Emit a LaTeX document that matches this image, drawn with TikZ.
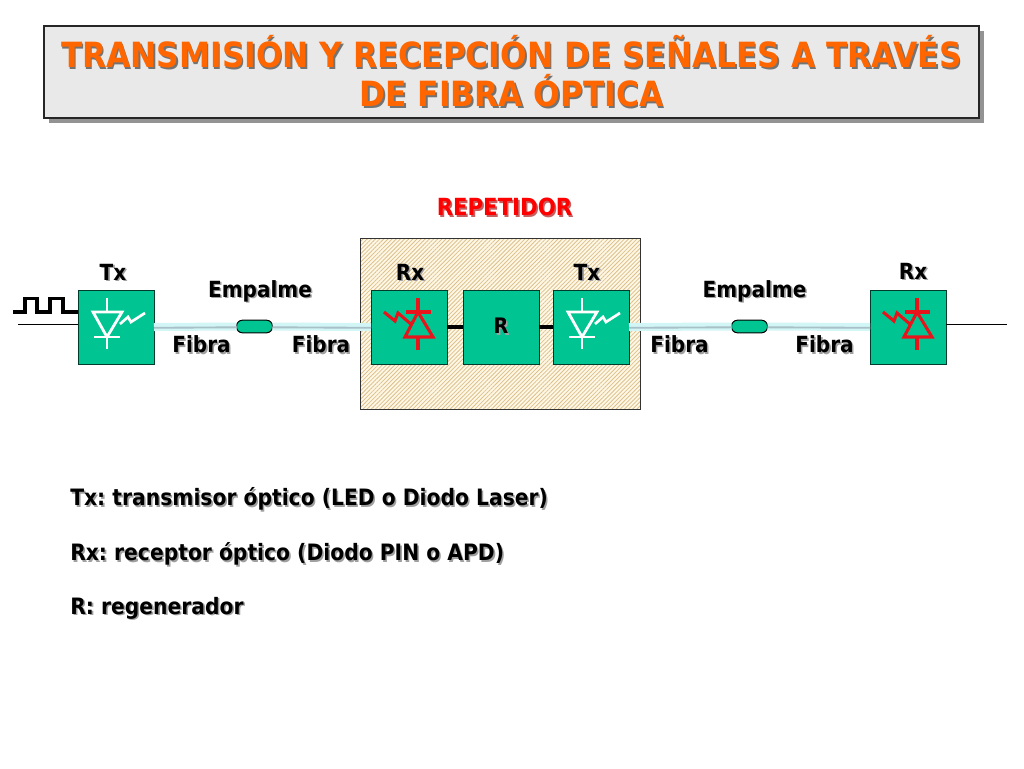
\documentclass[tikz,border=0pt]{standalone}
\usepackage{fontspec}
\setmainfont{DejaVu Sans}[FakeStretch=0.9]
\usetikzlibrary{patterns.meta}
\definecolor{boxgreen}{HTML}{00C492}
\definecolor{spliceGreen}{HTML}{00C492}
\definecolor{titleorange}{HTML}{FF6600}
\definecolor{titlefill}{HTML}{E9E9E9}
\definecolor{fibreout}{HTML}{D2F5F5}
\definecolor{fibremid}{HTML}{A8C0C8}
\definecolor{cream}{HTML}{FFF8E6}
\definecolor{hatch}{HTML}{DCC08C}
\definecolor{shadowgray}{HTML}{A0A0A0}
\definecolor{diodered}{HTML}{E8141C}
\newcommand\shadtext[3][shadowgray]{\leavevmode\rlap{\kern#2\raisebox{-#2}{\color{#1}#3}}#3}
\newcommand\lbl[1]{\shadtext{1.2pt}{#1}}
\tikzset{
  x=0.75pt,y=-0.75pt,
  unit/.style={draw=black!70!boxgreen,line width=0.75pt,fill=boxgreen,minimum width=57pt,minimum height=55.5pt,inner sep=0pt,outer sep=0pt,font=\bfseries\fontsize{16pt}{18pt}\selectfont},
  tag/.style={font=\bfseries\fontsize{16.7pt}{19pt}\selectfont,inner sep=0pt},
  legend/.style={font=\bfseries\fontsize{16.92pt}{19pt}\selectfont,inner sep=0pt,anchor=west},
  fibreA/.style={line width=6pt,fibreout},
  fibreB/.style={line width=1.4pt,fibremid,transform canvas={yshift=-0.6pt}},
  splice/.style={draw=black,line width=0.75pt,fill=spliceGreen,rounded corners=4.5pt,minimum width=27pt,minimum height=9.5pt,inner sep=0pt,outer sep=0pt},
  wire/.style={black,line width=0.75pt},
  link/.style={black,line width=2.4pt},
  emit/.style={white,line width=2.1pt},
  detect/.style={diodered,line width=2.3pt,line join=miter},
}
\newcommand\txdiode[1]{\begin{scope}[shift={(#1,0)}]
  \draw[emit] (29,298) -- (29,312);
  \draw[emit] (29,337) -- (29,349);
  \draw[emit] (15,312) -- (44,312) -- (29,337) -- cycle;
  \draw[emit] (16,337) -- (42,337);
  \draw[emit,line width=2pt] (42,324) -- (50,317) -- (53,322) -- (67,313);
\end{scope}}
\newcommand\rxdiode[1]{\begin{scope}[shift={(#1,0)}]
  \draw[detect] (47,298) -- (47,312);
  \draw[detect] (47,337) -- (47,350);
  \draw[detect] (35,312) -- (60,312);
  \draw[detect] (47,312) -- (62,337) -- (34,337) -- cycle;
  \draw[detect] (13,312) -- (24,321) -- (27,313) -- (41,325);
\end{scope}}
\begin{document}
\frenchspacing
\begin{tikzpicture}
\useasboundingbox (0,0) rectangle (1024,768);
% title
\fill[gray!85] (49,31) rectangle (984,123);
\node[draw=black!85,line width=0.8pt,fill=titlefill,minimum width=701.25pt,minimum height=69pt,inner sep=0pt,outer sep=0pt,
  font=\bfseries\fontsize{26.05pt}{29.2pt}\selectfont,text=titleorange,align=center] (title) at (511.5,72)
  {\raisebox{-1pt}{\shadtext[black!55]{1.1pt}{TRANSMISIÓN Y RECEPCIÓN DE SEÑALES A TRAVÉS}}\\\raisebox{-1pt}{\shadtext[black!55]{1.1pt}{DE FIBRA ÓPTICA}}};
% repeater
\node[draw=black!80,line width=0.75pt,preaction={fill=cream},pattern={Lines[angle=45,distance=2.2pt,line width=0.6pt]},pattern color=hatch,
  minimum width=210pt,minimum height=128pt,inner sep=0pt,outer sep=0pt] (rep) at (500,324) {};
\node[tag,text=red,font=\bfseries\fontsize{17.7pt}{19pt}\selectfont] (reptitle) at (504.5,208) {\shadtext[red!40!shadowgray]{1.2pt}{REPETIDOR}};
% units
\node[unit] (txa) at (116,327) {};
\node[unit] (rxa) at (409,327) {};
\node[unit] (reg) at (501,327) {\lbl{R}};
\node[unit] (txb) at (591,327) {};
\node[unit] (rxb) at (908,327) {};
% splices
\node[splice] (spa) at (254.5,326.5) {};
\node[splice] (spb) at (749.5,326.5) {};
\coordinate (inEnd) at (18,324);
\coordinate (outEnd) at (1007,324);
\coordinate (sqStart) at (13,312);
\draw[wire] (inEnd) -- (inEnd -| txa.west);
\draw[wire] (rxb.east |- outEnd) -- (outEnd);
\draw[black,line width=2.3pt] (sqStart) -- (25,312) -- (25,298.5) -- (37,298.5) -- (37,312) -- (50,312) -- (50,298.5) -- (63,298.5) -- (63,312) -- (sqStart -| txa.west);
\draw[fibreA] (txa.east) -- (spa.west);
\draw[fibreB] (txa.east) -- (spa.west);
\draw[fibreA] (spa.east) -- (rxa.west);
\draw[fibreB] (spa.east) -- (rxa.west);
\draw[fibreA] (txb.east) -- (spb.west);
\draw[fibreB] (txb.east) -- (spb.west);
\draw[fibreA] (spb.east) -- (rxb.west);
\draw[fibreB] (spb.east) -- (rxb.west);
\draw[link] (rxa.east) -- (reg.west);
\draw[link] (reg.east) -- (txb.west);
\txdiode{78}\txdiode{553}
\rxdiode{371}\rxdiode{870}
% labels
\node[tag] (ltxa) at (113,273) {\lbl{Tx}};
\node[tag] (lrxa) at (410,273) {\lbl{Rx}};
\node[tag] (ltxb) at (587,273) {\lbl{Tx}};
\node[tag] (lrxb) at (913,272) {\lbl{Rx}};
\node[tag] (ema) at (260,292) {\lbl{Empalme}};
\node[tag] (emb) at (754.5,292) {\lbl{Empalme}};
\node[tag] (fa) at (201.5,345) {\lbl{Fibra}};
\node[tag] (fb) at (321,345) {\lbl{Fibra}};
\node[tag] (fc) at (679.5,345) {\lbl{Fibra}};
\node[tag] (fd) at (824.5,345) {\lbl{Fibra}};
\node[legend] (la) at (70,500) {\lbl{Tx: transmisor óptico (LED o Diodo Laser)}};
\node[legend] (lb) at (70,555) {\lbl{Rx: receptor óptico (Diodo PIN o APD)}};
\node[legend] (lc) at (70,609) {\lbl{R: regenerador}};
\end{tikzpicture}
\end{document}
